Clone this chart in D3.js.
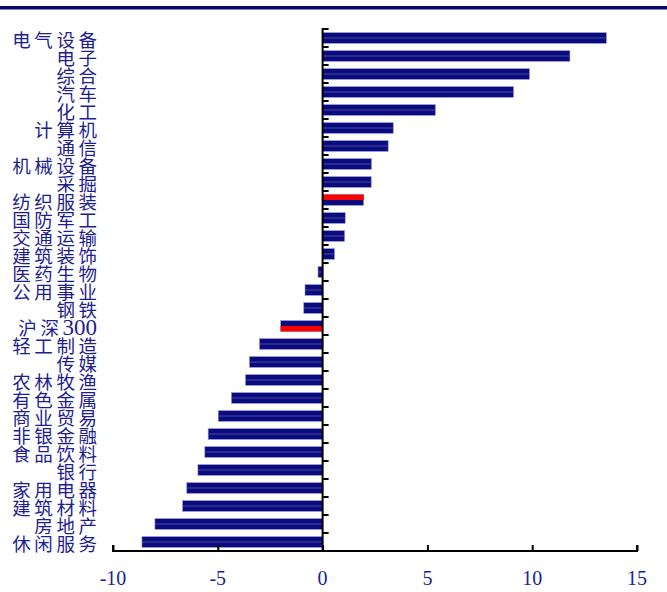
<!DOCTYPE html>
<html>
<head>
<meta charset="utf-8">
<script src="https://cdn.jsdelivr.net/npm/d3@7"></script>
<style>
  html, body { margin: 0; padding: 0; background: #fff; }
  svg { display: block; }
</style>
</head>
<body>
<svg id="chart" width="667" height="592"></svg>
<script>
// Industry weekly change (%), top to bottom
const categories = [
  "电气设备", "电子", "综合", "汽车", "化工", "计算机", "通信", "机械设备", "采掘",
  "纺织服装", "国防军工", "交通运输", "建筑装饰", "医药生物", "公用事业", "钢铁",
  "沪深300", "轻工制造", "传媒", "农林牧渔", "有色金属", "商业贸易", "非银金融",
  "食品饮料", "银行", "家用电器", "建筑材料", "房地产", "休闲服务"
];
const values = [
  13.54, 11.8, 9.87, 9.11, 5.38, 3.37, 3.13, 2.33, 2.32,
  1.96, 1.08, 1.05, 0.57, -0.22, -0.84, -0.9,
  -2.0, -3.01, -3.49, -3.68, -4.35, -4.98, -5.46,
  -5.62, -5.95, -6.48, -6.68, -8.0, -8.62
];
// Red half-bar highlights: which half of the bar is drawn in red
const highlights = {"纺织服装": "top", "沪深300": "bottom"};
const xTicks = [-10, -5, 0, 5, 10, 15];

const navy = "#0b0b80";
const labelColor = "#1e1e8e";

const svg = d3.select("#chart");

// Header rule
svg.append("rect").attr("x", 0).attr("y", 6).attr("width", 667).attr("height", 3.5).attr("fill", "#08086e");

const x = d3.scaleLinear().domain([-10, 15]).range([113, 637]);
const y = d3.scaleBand().domain(categories).range([29, 551]).paddingInner(0.4).paddingOuter(0.2);
const yBand = d3.scaleBand().domain(categories).range([29, 551]);

// Bars
const bars = svg.append("g");
categories.forEach((c, i) => {
  const v = values[i];
  const x0 = x(Math.min(0, v)), x1 = x(Math.max(0, v));
  const yy = y(c), h = y.bandwidth();
  bars.append("rect").attr("x", x0).attr("y", yy).attr("width", x1 - x0).attr("height", h)
    .attr("fill", navy).attr("stroke", "#9a9ad4").attr("stroke-width", 0.6);
  const hl = highlights[c];
  if (hl) {
    bars.append("rect").attr("x", x0).attr("y", hl === "top" ? yy : yy + h / 2)
      .attr("width", x1 - x0).attr("height", h / 2).attr("fill", "#ff0000");
  } else {
    // thin lighter centre stripe
    bars.append("rect").attr("x", x0).attr("y", yy + h / 2 - 0.5).attr("width", x1 - x0).attr("height", 1)
      .attr("fill", "#5a5aa8").attr("opacity", 0.8);
  }
});

// Y axis: vertical line at zero, ticks on band boundaries pointing right
const yAxis = svg.append("g");
yAxis.append("line").attr("x1", x(0)).attr("x2", x(0)).attr("y1", 28).attr("y2", 552)
  .attr("stroke", "#000").attr("stroke-width", 2);
categories.forEach(c => {
  const yy = yBand(c);
  yAxis.append("line").attr("x1", x(0)).attr("x2", x(0) + 6).attr("y1", yy).attr("y2", yy)
    .attr("stroke", "#000").attr("stroke-width", 2);
});

// X axis
const xAxisG = svg.append("g").attr("transform", "translate(0,551)")
  .call(d3.axisTop(x).tickValues(xTicks).tickSize(6).tickFormat(""));
xAxisG.select(".domain").attr("d", `M${x(-10)},-6V0H${x(15)}V-6`).attr("stroke", "#000").attr("stroke-width", 2);
xAxisG.selectAll(".tick line").attr("stroke", "#000").attr("stroke-width", 2);

svg.append("g").selectAll("text").data(xTicks).join("text")
  .attr("x", d => x(d)).attr("y", 585)
  .attr("text-anchor", "middle")
  .attr("font-family", "'Liberation Serif', 'Times New Roman', serif")
  .attr("font-size", 20).attr("fill", labelColor)
  .text(d => d);

// Category labels, right-aligned with wide letter spacing
const spacing = 3.6;
const labels = svg.append("g");
categories.forEach(c => {
  const cy = yBand(c) + yBand.bandwidth() / 2 + 2;
  const m = c.match(/^(.*?)([0-9]+)$/);
  const t = labels.append("text")
    .attr("x", 97 + (m ? 0 : spacing)).attr("y", cy)
    .attr("dy", "0.37em")
    .attr("text-anchor", "end")
    .attr("font-family", "'Noto Sans CJK SC', sans-serif")
    .attr("font-size", 18.5)
    .attr("fill", labelColor);
  if (m) {
    t.append("tspan").attr("letter-spacing", spacing).text(m[1]);
    t.append("tspan").attr("font-family", "'Liberation Serif', serif").attr("font-size", 23)
      .attr("letter-spacing", 0).text(m[2]);
  } else {
    t.attr("letter-spacing", spacing).text(c);
  }
});
</script>
</body>
</html>
